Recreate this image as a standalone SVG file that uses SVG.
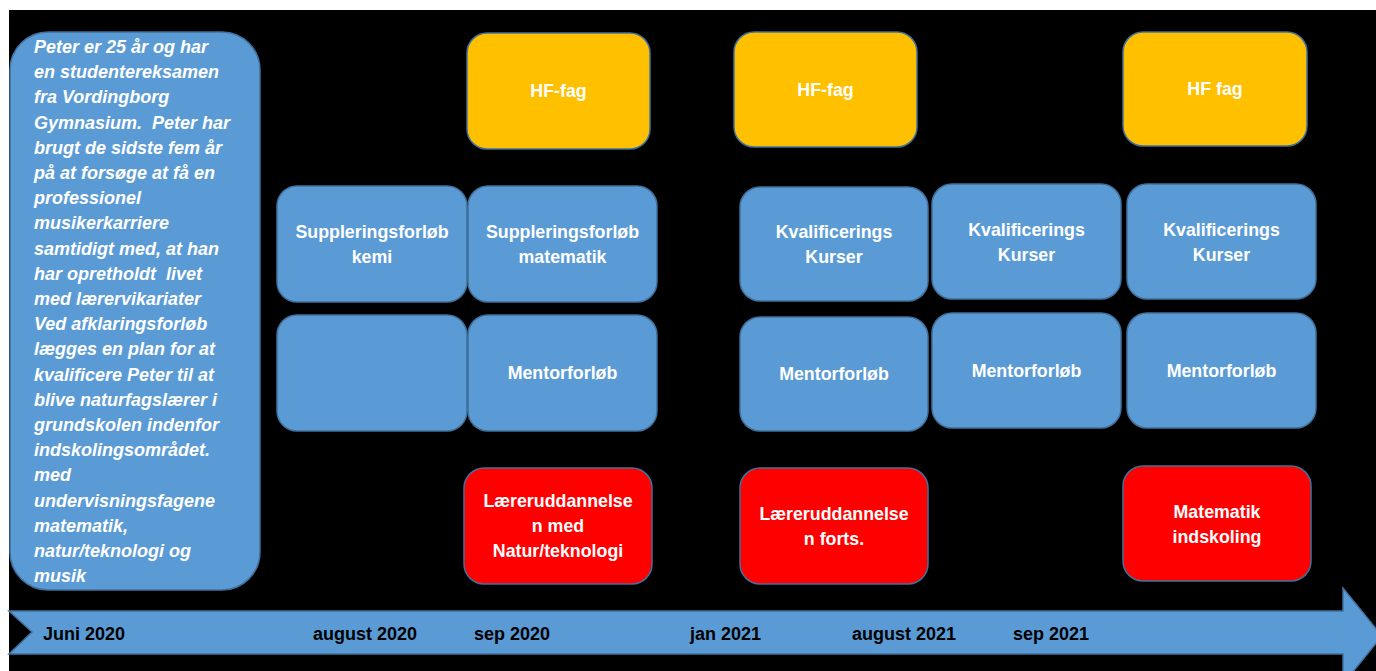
<svg xmlns="http://www.w3.org/2000/svg" width="1376" height="671" viewBox="0 0 1376 671">
<style>
.b{fill:#5B9BD5;stroke:#41719C;stroke-width:1.5}
.y{fill:#FFC000;stroke:#41719C;stroke-width:1.5}
.r{fill:#FF0000;stroke:#41719C;stroke-width:1.5}
.t{font-family:"Liberation Sans",Arial,sans-serif;font-weight:bold;font-size:17.8px;fill:#fff;text-anchor:middle}
.s{font-family:"Liberation Sans",Arial,sans-serif;font-weight:bold;font-style:italic;font-size:18px;fill:#fff;white-space:pre}
.d{font-family:"Liberation Sans",Arial,sans-serif;font-weight:bold;font-size:18px;fill:#000}
</style>
<rect width="1376" height="671" fill="#fff"/>
<rect x="9" y="10" width="1367" height="661" fill="#000"/>
<g id="timeline">
<polygon class="b" points="9,611 1343,611 1343,588 1382,636 1343,684 1343,654 9,654 32,632"/>
<text class="d" x="43" y="640">Juni 2020</text>
<text class="d" x="313" y="640">august 2020</text>
<text class="d" x="474" y="640">sep 2020</text>
<text class="d" x="690" y="640">jan 2021</text>
<text class="d" x="852" y="640">august 2021</text>
<text class="d" x="1013" y="640">sep 2021</text>
</g>
<g id="story">
<rect class="b" x="10" y="32" width="250" height="558" rx="38"/>
<text class="s" x="34" y="53">Peter er 25 år og har</text>
<text class="s" x="34" y="78.2">en studentereksamen</text>
<text class="s" x="34" y="103.4">fra Vordingborg</text>
<text class="s" x="34" y="128.6">Gymnasium.  Peter har</text>
<text class="s" x="34" y="153.8">brugt de sidste fem år</text>
<text class="s" x="34" y="179">på at forsøge at få en</text>
<text class="s" x="34" y="204.2">professionel</text>
<text class="s" x="34" y="229.4">musikerkarriere</text>
<text class="s" x="34" y="254.6">samtidigt med, at han</text>
<text class="s" x="34" y="279.8">har opretholdt  livet</text>
<text class="s" x="34" y="305">med lærervikariater</text>
<text class="s" x="34" y="330.2">Ved afklaringsforløb</text>
<text class="s" x="34" y="355.4">lægges en plan for at</text>
<text class="s" x="34" y="380.6">kvalificere Peter til at</text>
<text class="s" x="34" y="405.8">blive naturfagslærer i</text>
<text class="s" x="34" y="431">grundskolen indenfor</text>
<text class="s" x="34" y="456.2">indskolingsområdet.</text>
<text class="s" x="34" y="481.4">med</text>
<text class="s" x="34" y="506.6">undervisningsfagene</text>
<text class="s" x="34" y="531.8">matematik,</text>
<text class="s" x="34" y="557">natur/teknologi og</text>
<text class="s" x="34" y="582.2">musik</text>
</g>
<g id="hf1"><rect class="y" x="467" y="33" width="183" height="116" rx="20"/><text class="t" x="558.5" y="97">HF-fag</text></g>
<g id="hf2"><rect class="y" x="734" y="32" width="183" height="115" rx="20"/><text class="t" x="825.5" y="96">HF-fag</text></g>
<g id="hf3"><rect class="y" x="1123" y="32" width="184" height="114" rx="20"/><text class="t" x="1215" y="95">HF fag</text></g>
<g id="supkemi"><rect class="b" x="277" y="186" width="190" height="116" rx="20"/><text class="t" x="372" y="238">Suppleringsforløb</text><text class="t" x="372" y="263">kemi</text></g>
<g id="supmat"><rect class="b" x="468" y="186" width="189" height="116" rx="20"/><text class="t" x="562.5" y="238">Suppleringsforløb</text><text class="t" x="562.5" y="263">matematik</text></g>
<g id="kval1"><rect class="b" x="740" y="187" width="188" height="114" rx="20"/><text class="t" x="834" y="238">Kvalificerings</text><text class="t" x="834" y="263">Kurser</text></g>
<g id="kval2"><rect class="b" x="932" y="184" width="189" height="115" rx="20"/><text class="t" x="1026.5" y="236">Kvalificerings</text><text class="t" x="1026.5" y="261">Kurser</text></g>
<g id="kval3"><rect class="b" x="1127" y="184" width="189" height="115" rx="20"/><text class="t" x="1221.5" y="236">Kvalificerings</text><text class="t" x="1221.5" y="261">Kurser</text></g>
<g id="blank"><rect class="b" x="277" y="315" width="190" height="116" rx="20"/></g>
<g id="mentor1"><rect class="b" x="468" y="315" width="189" height="116" rx="20"/><text class="t" x="562.5" y="379">Mentorforløb</text></g>
<g id="mentor2"><rect class="b" x="740" y="317" width="188" height="114" rx="20"/><text class="t" x="834" y="380">Mentorforløb</text></g>
<g id="mentor3"><rect class="b" x="932" y="313" width="189" height="115" rx="20"/><text class="t" x="1026.5" y="377">Mentorforløb</text></g>
<g id="mentor4"><rect class="b" x="1127" y="313" width="189" height="115" rx="20"/><text class="t" x="1221.5" y="377">Mentorforløb</text></g>
<g id="laerer1"><rect class="r" x="464" y="468" width="188" height="116" rx="20"/><text class="t" x="558" y="507">Læreruddannelse</text><text class="t" x="558" y="532">n med</text><text class="t" x="558" y="557">Natur/teknologi</text></g>
<g id="laerer2"><rect class="r" x="740" y="468" width="188" height="116" rx="20"/><text class="t" x="834" y="520">Læreruddannelse</text><text class="t" x="834" y="545">n forts.</text></g>
<g id="matind"><rect class="r" x="1123" y="466" width="188" height="115" rx="20"/><text class="t" x="1217" y="518">Matematik</text><text class="t" x="1217" y="543">indskoling</text></g>
<g id="connectors"></g>
</svg>
